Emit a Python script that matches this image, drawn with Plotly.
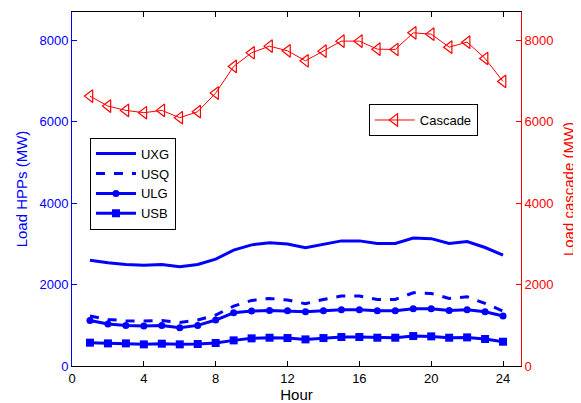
import plotly.graph_objects as go

hours = list(range(1, 25))
uxg = [2600, 2536, 2495, 2478, 2495, 2438, 2495, 2626, 2847, 2977, 3026, 3000,
       2904, 2994, 3075, 3075, 3010, 3010, 3145, 3130, 3010, 3060, 2912, 2724]
usq = [1227, 1145, 1112, 1104, 1120, 1071, 1129, 1252, 1472, 1612, 1661, 1620,
       1530, 1636, 1718, 1718, 1636, 1636, 1800, 1783, 1661, 1702, 1538, 1350]
ulg = [1120, 1031, 998, 982, 998, 941, 998, 1129, 1309, 1350, 1366, 1358,
       1333, 1358, 1383, 1383, 1358, 1358, 1407, 1407, 1366, 1383, 1333, 1227]
usb = [573, 556, 556, 532, 548, 532, 540, 565, 630, 679, 695, 687,
       654, 687, 712, 712, 695, 695, 736, 728, 695, 703, 663, 597]
cascade = [6633, 6388, 6282, 6225, 6282, 6102, 6250, 6707, 7362, 7698, 7861, 7746,
           7501, 7738, 7984, 7984, 7787, 7779, 8188, 8156, 7836, 7959, 7558, 6994]
x_ticks = [0, 4, 8, 12, 16, 20, 24]
y_ticks = [0, 2000, 4000, 6000, 8000]

BLUE = "#0000ff"
RED = "#ff0000"
FONT = "Liberation Sans, Arial, sans-serif"

fig = go.Figure()
fig.add_trace(go.Scatter(x=hours, y=uxg, name="UXG", mode="lines",
                         line=dict(color=BLUE, width=3), legend="legend"))
fig.add_trace(go.Scatter(x=hours, y=usq, name="USQ", mode="lines",
                         line=dict(color=BLUE, width=3, dash="dash"), legend="legend"))
fig.add_trace(go.Scatter(x=hours, y=ulg, name="ULG", mode="lines+markers",
                         line=dict(color=BLUE, width=3),
                         marker=dict(symbol="circle", size=7, color=BLUE), legend="legend"))
fig.add_trace(go.Scatter(x=hours, y=usb, name="USB", mode="lines+markers",
                         line=dict(color=BLUE, width=3),
                         marker=dict(symbol="square", size=8, color=BLUE), legend="legend"))
fig.add_trace(go.Scatter(x=hours, y=cascade, name="Cascade", mode="lines+markers",
                         line=dict(color=RED, width=1),
                         marker=dict(symbol="triangle-left-open", size=11, color=RED,
                                     line=dict(width=1.2, color=RED)),
                         yaxis="y2", legend="legend2"))

# The page body adds an 8px offset, so the figure is 8px smaller and margins shifted.
fig.update_layout(
    width=573, height=395,
    margin=dict(l=64, r=60, t=4, b=37),
    paper_bgcolor="white", plot_bgcolor="white",
    font=dict(family=FONT, size=12, color="black"),
    xaxis=dict(range=[0, 25], tickvals=x_ticks, showgrid=False, zeroline=False,
               showline=True, linecolor="black", linewidth=1, mirror="ticks",
               ticks="inside", ticklen=5, tickcolor="black", automargin=False,
               tickfont=dict(size=13),
               title=dict(text="Hour", font=dict(size=15), standoff=2)),
    yaxis=dict(range=[0, 8700], tickvals=y_ticks, showgrid=False, zeroline=False,
               showline=True, linecolor=BLUE, linewidth=1,
               ticks="inside", ticklen=5, tickcolor=BLUE, automargin=False,
               tickfont=dict(color=BLUE, size=13),
               title=dict(text="Load HPPs (MW)", font=dict(size=15, color=BLUE), standoff=8)),
    yaxis2=dict(range=[0, 8700], tickvals=y_ticks, overlaying="y", side="right",
                showgrid=False, zeroline=False, showline=True, linecolor=RED, linewidth=1,
                ticks="inside", ticklen=5, tickcolor=RED, automargin=False,
                tickfont=dict(color=RED, size=13),
                title=dict(text="Load cascade (MW)", font=dict(size=15, color=RED), standoff=10)),
    legend=dict(x=0.04, y=0.645, xanchor="left", yanchor="top",
                bgcolor="white", bordercolor="black", borderwidth=1,
                font=dict(size=13), itemwidth=40, tracegroupgap=0),
    legend2=dict(x=0.661, y=0.74, xanchor="left", yanchor="top",
                 bgcolor="white", bordercolor="black", borderwidth=1,
                 font=dict(size=13), itemwidth=40),
)

fig.write_html("out.html")
